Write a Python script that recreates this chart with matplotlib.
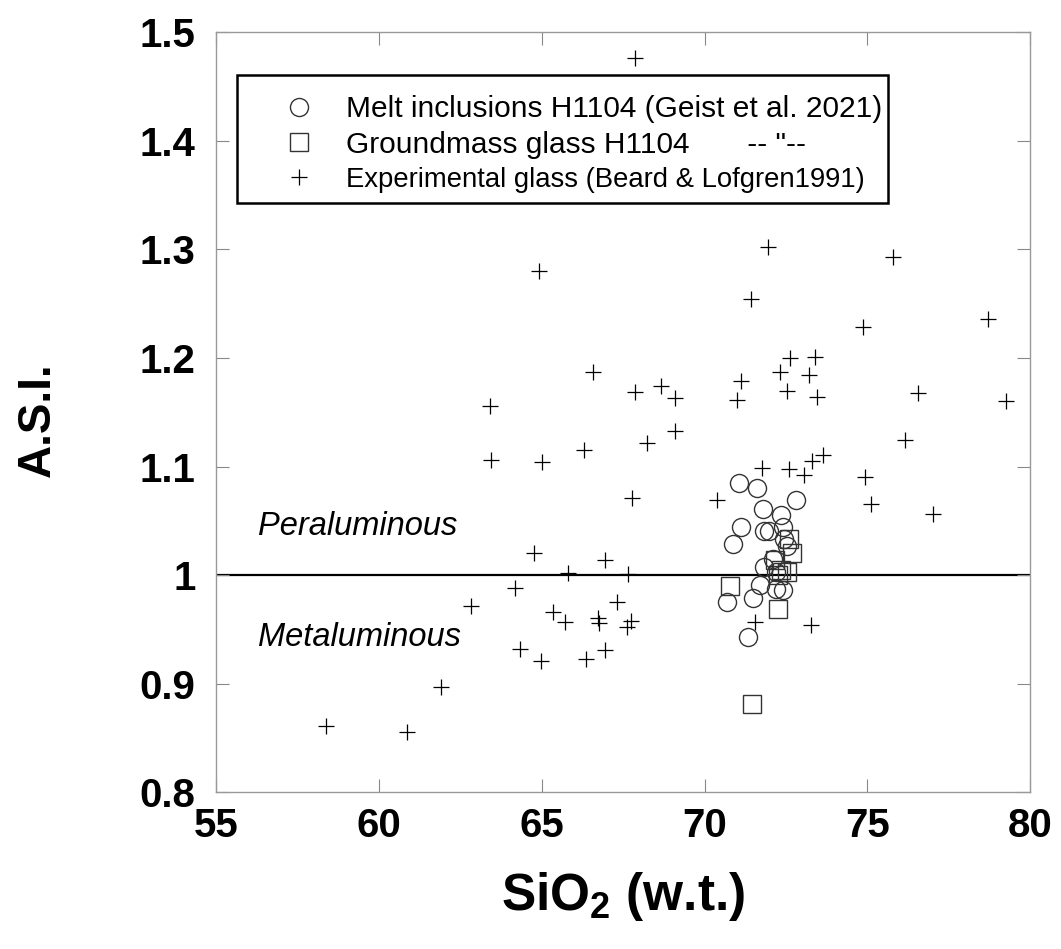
import matplotlib
matplotlib.use('Agg')
import matplotlib.pyplot as plt
from matplotlib.lines import Line2D
from matplotlib.patches import Rectangle

plt.rcParams['font.family'] = ['Liberation Sans', 'DejaVu Sans']
plt.rcParams['mathtext.fontset'] = 'custom'
plt.rcParams['mathtext.rm'] = 'Liberation Sans:bold'
plt.rcParams['mathtext.default'] = 'rm'

# melt inclusions H1104 (Geist et al. 2021)
mi_sio2 = [71.05, 71.60, 72.80, 71.78, 72.35, 71.13, 71.82, 71.97, 72.41, 70.88,
           72.52, 72.09, 71.82, 72.19, 71.70, 70.69, 71.49, 72.20, 72.41, 71.32,
           72.45]
mi_asi = [1.0845, 1.0805, 1.069, 1.061, 1.055, 1.044, 1.041, 1.041, 1.044, 1.029,
          1.027, 1.015, 1.007, 1.003, 0.991, 0.975, 0.979, 0.987, 0.986, 0.943,
          1.033]

# groundmass glass H1104
gm_sio2 = [72.60, 72.68, 72.16, 72.52, 72.26, 72.35, 70.78, 72.26, 71.46]
gm_asi = [1.033, 1.020, 1.014, 1.003, 1.000, 1.005, 0.990, 0.969, 0.881]

# experimental glass (Beard & Lofgren 1991)
exp_sio2 = [67.86, 71.95, 75.79, 64.91, 71.41, 78.70, 74.85, 72.62, 73.39, 66.58,
            72.31, 73.21, 71.10, 68.65, 67.86, 72.54, 76.56, 69.10, 71.00, 73.44,
            79.25, 63.40, 69.09, 76.16, 68.22, 66.28, 73.62, 63.43, 65.00, 73.30,
            71.75, 72.60, 73.06, 74.92, 67.77, 70.39, 75.12, 77.00, 64.76, 66.93,
            65.81, 67.64, 64.16, 67.30, 62.83, 65.34, 66.72, 66.76, 67.74, 65.70,
            71.54, 73.26, 67.62, 64.32, 66.93, 66.34, 64.96, 61.89, 58.37, 60.85]
exp_asi = [1.476, 1.302, 1.293, 1.280, 1.254, 1.236, 1.229, 1.200, 1.201, 1.187,
           1.187, 1.184, 1.179, 1.174, 1.169, 1.170, 1.168, 1.163, 1.161, 1.164,
           1.160, 1.156, 1.133, 1.124, 1.122, 1.115, 1.111, 1.106, 1.104, 1.105,
           1.099, 1.098, 1.092, 1.090, 1.071, 1.069, 1.065, 1.056, 1.020, 1.014,
           1.002, 1.001, 0.988, 0.975, 0.971, 0.966, 0.960, 0.956, 0.958, 0.957,
           0.957, 0.954, 0.952, 0.932, 0.931, 0.923, 0.921, 0.897, 0.861, 0.855]

xticks = [55, 60, 65, 70, 75, 80]
yticks = [0.8, 0.9, 1.0, 1.1, 1.2, 1.3, 1.4, 1.5]
ytick_labels = ['0.8', '0.9', '1', '1.1', '1.2', '1.3', '1.4', '1.5']

fig = plt.figure(figsize=(10.61, 9.49), dpi=100)
ax = fig.add_axes([0.204, 0.1654, 0.767, 0.8004])

ax.axhline(1.0, color='black', lw=1.6, zorder=1)

ax.plot(exp_sio2, exp_asi, ls='none', marker='+', ms=11, mew=0.9, color='black')
ax.plot(mi_sio2, mi_asi, ls='none', marker='o', ms=13, mfc='none', mec='#333333', mew=1.0)
ax.plot(gm_sio2, gm_asi, ls='none', marker='s', ms=13, mfc='none', mec='#333333', mew=1.0)

ax.text(56.27, 1.045, 'Peraluminous', fontsize=23.5, style='italic', va='center')
ax.text(56.27, 0.942, 'Metaluminous', fontsize=23.5, style='italic', va='center')

ax.set_xlim(55, 80)
ax.set_ylim(0.8, 1.5)
ax.set_xticks(xticks)
ax.set_yticks(yticks)
ax.set_yticklabels(ytick_labels)
ax.tick_params(direction='in', length=9.5, width=0.8, color='#888888',
               top=True, right=True, labelsize=29)
ax.tick_params(axis='y', pad=15)
ax.tick_params(axis='x', pad=11)
for lab in ax.get_xticklabels() + ax.get_yticklabels():
    lab.set_fontweight('bold')
for sp in ax.spines.values():
    sp.set_color('#999999')
    sp.set_linewidth(1.0)

ax.set_xlabel('SiO$_2$ (w.t.)', fontsize=37, fontweight='bold', labelpad=18)
ax.set_ylabel('A.S.I.', fontsize=33, fontweight='bold')
ax.yaxis.set_label_coords(-0.192, 0.49)

# legend box drawn separately (uneven padding in the original)
ax.add_patch(Rectangle((0.0252, 0.7755), 0.7998, 0.1685, transform=ax.transAxes,
                       fill=True, facecolor='white', edgecolor='black', lw=1.8,
                       zorder=4))

handles = [
    Line2D([], [], ls='none', marker='o', ms=13, mfc='none', mec='#333333', mew=1.0),
    Line2D([], [], ls='none', marker='s', ms=13, mfc='none', mec='#333333', mew=1.0),
    Line2D([], [], ls='none', marker='+', ms=11, mew=0.9, color='black'),
]
labels = ['Melt inclusions H1104 (Geist et al. 2021)',
          'Groundmass glass H1104       -- "--',
          'Experimental glass (Beard & Lofgren1991)']
leg = ax.legend(handles, labels, loc='upper left', bbox_to_anchor=(0.0535, 0.9177),
                borderaxespad=0, fontsize=21.5, frameon=False, borderpad=0,
                handlelength=2.63, handletextpad=0.26, labelspacing=0.26,
                numpoints=1)
leg.set_zorder(5)
leg.get_texts()[2].set_fontsize(19.8)

fig.savefig('out.png', dpi=100)
